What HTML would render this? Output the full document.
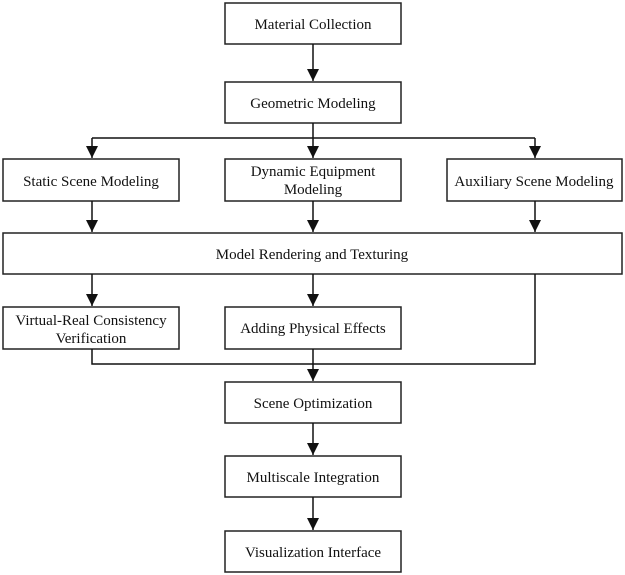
<!DOCTYPE html>
<html><head><meta charset="utf-8"><style>
html,body{margin:0;padding:0;background:#fff;width:625px;height:575px;overflow:hidden}
text{font-family:"Liberation Serif","Times New Roman",serif;font-size:15px;fill:#111;text-anchor:middle}
</style></head><body>
<svg width="625" height="575" viewBox="0 0 625 575" xmlns="http://www.w3.org/2000/svg">
<defs><marker id="a" markerWidth="14" markerHeight="14" refX="12" refY="6" orient="auto" markerUnits="userSpaceOnUse"><path d="M0,0 L12,6 L0,12 z" fill="#111"/></marker></defs>
<g fill="#fff" stroke="#222" stroke-width="1.5">
<rect x="225" y="3" width="176" height="41"/>
<rect x="225" y="82" width="176" height="41"/>
<rect x="3" y="159" width="176" height="42"/>
<rect x="225" y="159" width="176" height="42"/>
<rect x="447" y="159" width="175" height="42"/>
<rect x="3" y="233" width="619" height="41"/>
<rect x="3" y="307" width="176" height="42"/>
<rect x="225" y="307" width="176" height="42"/>
<rect x="225" y="382" width="176" height="41"/>
<rect x="225" y="456" width="176" height="41"/>
<rect x="225" y="531" width="176" height="41"/>
</g>
<g stroke="#111" stroke-width="1.5" fill="none">
<line x1="313" y1="44" x2="313" y2="81" marker-end="url(#a)"/>
<line x1="313" y1="123" x2="313" y2="158" marker-end="url(#a)"/>
<line x1="92" y1="138" x2="535" y2="138"/>
<line x1="92" y1="138" x2="92" y2="158" marker-end="url(#a)"/>
<line x1="535" y1="138" x2="535" y2="158" marker-end="url(#a)"/>
<line x1="92" y1="201" x2="92" y2="232" marker-end="url(#a)"/>
<line x1="313" y1="201" x2="313" y2="232" marker-end="url(#a)"/>
<line x1="535" y1="201" x2="535" y2="232" marker-end="url(#a)"/>
<line x1="92" y1="274" x2="92" y2="306" marker-end="url(#a)"/>
<line x1="313" y1="274" x2="313" y2="306" marker-end="url(#a)"/>
<polyline points="92,349 92,364 535,364 535,274"/>
<line x1="313" y1="349" x2="313" y2="381" marker-end="url(#a)"/>
<line x1="313" y1="423" x2="313" y2="455" marker-end="url(#a)"/>
<line x1="313" y1="497" x2="313" y2="530" marker-end="url(#a)"/>
</g>
<text x="313" y="29">Material Collection</text>
<text x="313" y="108">Geometric Modeling</text>
<text x="91" y="186">Static Scene Modeling</text>
<text x="313" y="176">Dynamic Equipment</text>
<text x="313" y="194">Modeling</text>
<text x="534" y="186">Auxiliary Scene Modeling</text>
<text x="312" y="259">Model Rendering and Texturing</text>
<text x="91" y="325">Virtual-Real Consistency</text>
<text x="91" y="343">Verification</text>
<text x="313" y="333">Adding Physical Effects</text>
<text x="313" y="408">Scene Optimization</text>
<text x="313" y="482">Multiscale Integration</text>
<text x="313" y="557">Visualization Interface</text>
</svg>
</body></html>
